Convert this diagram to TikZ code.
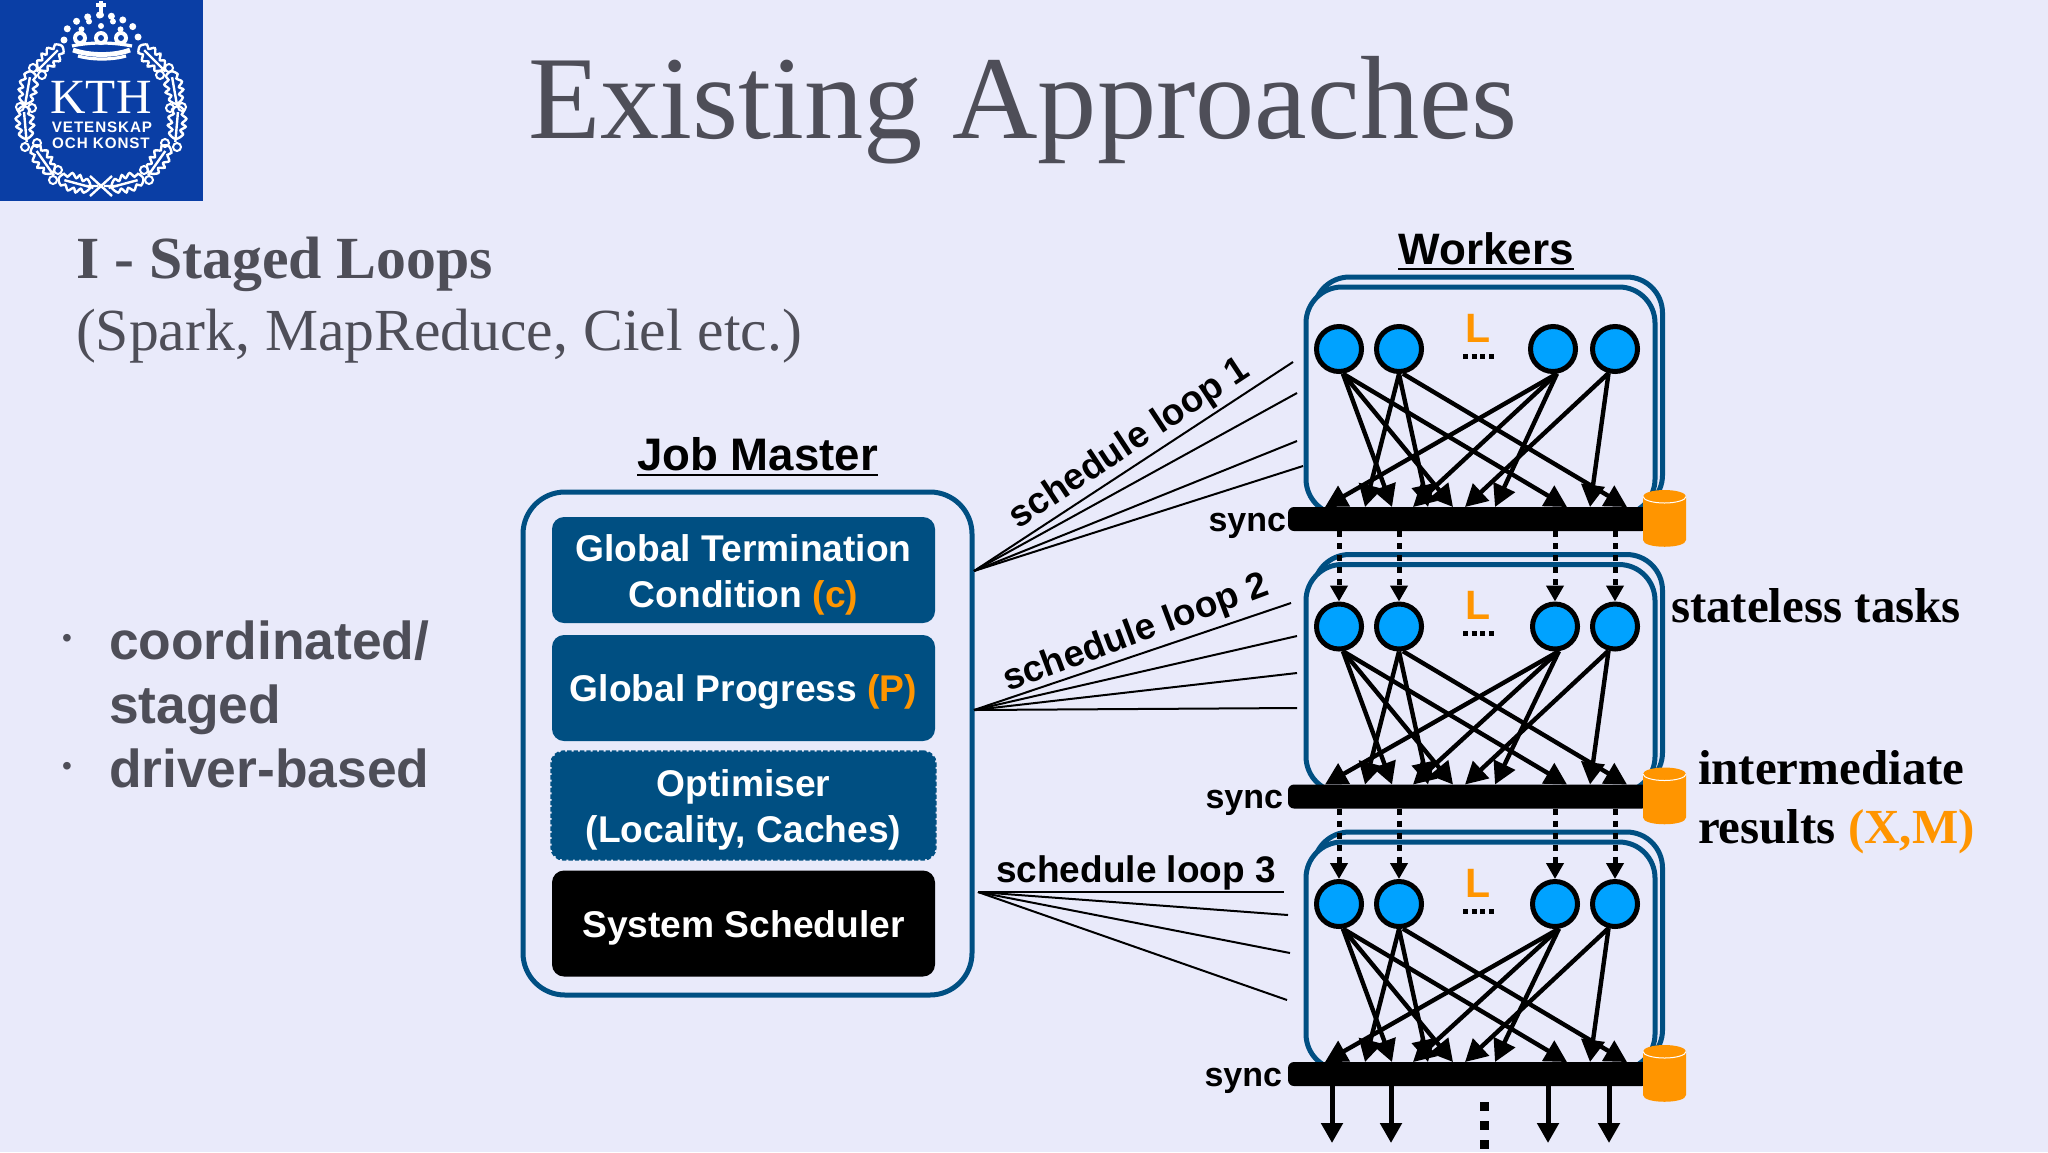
\documentclass[tikz,border=0pt]{standalone}
\usepackage{fontspec}
\setmainfont{Liberation Serif}
\setsansfont{Liberation Sans}
\newfontfamily\logosans[LetterSpace=6]{Liberation Sans}
\usetikzlibrary{arrows.meta,calc}
\definecolor{bgc}{RGB}{233,234,250}
\definecolor{kth}{RGB}{10,62,165}
\definecolor{navy}{RGB}{0,79,130}
\definecolor{gtxt}{RGB}{78,78,88}
\definecolor{org}{RGB}{255,149,0}
\definecolor{sky}{RGB}{0,162,255}
\newcommand{\fs}[1]{\fontsize{#1pt}{#1pt}\selectfont}
\tikzset{
  txt/.style={inner sep=0,outer sep=0},
  inbox/.style={txt,minimum width=191.5pt,minimum height=53pt,rounded corners=6pt,fill=navy},
  intext/.style={txt,text=white,align=center,font=\sffamily\bfseries\fontsize{18.6pt}{23pt}\selectfont},
  worker/.style={circle,draw=black,fill=sky,line width=2.5pt,minimum size=22.5pt,inner sep=0},
  flow/.style={line width=2.2pt,-{Triangle[length=11pt,width=11.5pt]}},
  sched/.style={line width=1pt,black},
  leaf/.style={white,line width=1.2pt},
}
\newcommand{\leafshape}{%
  \draw[leaf] plot[smooth cycle,tension=.6] coordinates{(-16,0)(-11,7)(-7,4)(-3,9)(0,5)(5,9)(9,4)(13,6)(17,0)(13,-6)(9,-4)(5,-9)(0,-5)(-3,-9)(-7,-4)(-11,-7)};
  \draw[leaf] (-19,0) -- (11,0);}
\begin{document}
\begin{tikzpicture}[x=0.5pt,y=-0.5pt]
\useasboundingbox (0,0) rectangle (2048,1152);
\fill[bgc] (0,0) rectangle (2048,1152);

% logo
\fill[kth] (0,0) rectangle (203,201);
\foreach \x/\y/\r/\m in {50/58/45/135,28/88/80/100,25/123/95/85,43/160/125/55,75/183/165/15}{
  \begin{scope}[shift={(\x,\y)},rotate=\r]\leafshape\end{scope}
  \begin{scope}[shift={(202-\x,\y)},rotate=\m]\leafshape\end{scope}
}
\foreach \x/\y in {33/68,20/107,32/108,25/147,37/143,58/170,53/180,42/75}{
  \draw[white,line width=1pt] (\x,\y) ellipse (4 and 4);
  \draw[white,line width=1pt] (202-\x,\y) ellipse (4 and 4);
}
\draw[white,line width=1.2pt] (90,176) -- (112,196) (90,196) -- (112,176) (86,186)--(98,186) (104,186)--(118,186);
% crown
\draw[white,line width=1.8pt] (101,1) -- (101,13) (96,5) -- (106,5);
\draw[white,line width=3.5pt,line cap=round,dash pattern=on 0pt off 6pt] (64,40) .. controls (62,24) and (86,15) .. (101,15) .. controls (116,15) and (140,24) .. (138,40);
\draw[white,line width=3pt,line cap=round,dash pattern=on 0pt off 5.5pt] (101,15) -- (101,36);
\draw[white,line width=3pt,line cap=round,dash pattern=on 0pt off 5.5pt] (81,40) .. controls (77,30) and (86,21) .. (97,18) (121,40) .. controls (125,30) and (116,21) .. (105,18);
\foreach \x in {80,101,121}{\fill[white] (\x,38) circle (7);\fill[kth] (\x,38) circle (3);}
\draw[white,line width=1.6pt] (72,46) .. controls (90,42) and (112,42) .. (132,46);
\draw[white,line width=2.4pt] (73,50) .. controls (90,56) and (114,56) .. (130,50);
\draw[white,line width=1.6pt] (78,56) .. controls (92,60) and (112,60) .. (126,56);
\node[txt,text=white,font=\fs{24.6}] (kthname) at (101,97) {KTH};
\node[txt,text=white,anchor=base,font=\logosans\bfseries\fs{7.6}] (kth1) at (102,132) {VETENSKAP};
\node[txt,text=white,anchor=base,font=\logosans\bfseries\fs{7.6}] (kth2) at (101,148) {OCH KONST};

% headings
\node[txt,anchor=base west,text=gtxt,font=\fs{59.2}] (title) at (528,138) {Existing Approaches};
\node[txt,anchor=base west,text=gtxt,font=\bfseries\fs{29.9}] (h1) at (76,278) {I - Staged Loops};
\node[txt,anchor=base west,text=gtxt,font=\fs{29.85}] (h2) at (76,350) {(Spark, MapReduce, Ciel etc.)};
\node[txt,text=gtxt,font=\sffamily\fs{14}] (bul1) at (67,641) {•};
\node[txt,text=gtxt,font=\sffamily\fs{14}] (bul2) at (67,769) {•};
\node[txt,anchor=base west,text=gtxt,font=\sffamily\bfseries\fs{26.7}] (b1) at (109,659) {coordinated/};
\node[txt,anchor=base west,text=gtxt,font=\sffamily\bfseries\fs{26.7}] (b2) at (109,723) {staged};
\node[txt,anchor=base west,text=gtxt,font=\sffamily\bfseries\fs{26.7}] (b3) at (109,787) {driver-based};

% job master
\node[txt,draw=navy,line width=2.5pt,rounded corners=21pt,minimum width=224.5pt,minimum height=251.5pt] (jm) at (747.5,743.5) {};
\node[inbox] (gtc) at (743.5,570) {};
\node[intext] (gtcT) at (743.5,575) {Global Termination\\Condition {\color{org}(c)}};
\node[inbox] (gp) at (743.5,688) {};
\node[intext] (gpT) at (743.5,692) {Global Progress {\color{org}(P)}};
\node[inbox,draw=navy,line width=1.2pt,dash pattern=on 2.2pt off 1pt,minimum width=192pt,minimum height=54pt] (opt) at (743.5,805.5) {};
\node[intext] (optT) at (743.5,809.5) {Optimiser\\(Locality, Caches)};
\node[inbox,fill=black] (ss) at (743.5,923.5) {};
\node[intext] (ssT) at (743.5,927.5) {System Scheduler};
\node[txt,anchor=base,font=\sffamily\bfseries\fs{22.8}] (jmt) at (757.5,470) {Job Master};
\draw[line width=1.4pt] ($(jmt.base west)+(0,5)$) -- ($(jmt.base east)+(0,5)$);
\node[txt,anchor=base,font=\sffamily\bfseries\fs{22}] (wt) at (1486,264) {Workers};
\draw[line width=1.4pt] ($(wt.base west)+(0,5)$) -- ($(wt.base east)+(0,5)$);

% worker panels
\foreach \p/\dy/\sx/\cx in {1/0/1286/1553,2/277.5/1283/1555,3/555/1282/1555}{
\begin{scope}[shift={(0,\dy)}]
  \node[txt,draw=navy,line width=2.5pt,rounded corners=18pt,minimum width=174.5pt,minimum height=117pt] (back\p) at (1488,394) {};
  \node[txt,draw=navy,fill=bgc,line width=2.5pt,rounded corners=18pt,minimum width=174.5pt,minimum height=114pt] (front\p) at (1480.5,401) {};
  \node[txt,fill=black,rounded corners=3pt,minimum width=180pt,minimum height=12pt] (bar\p) at (1468,519) {};
  % cylinder
  \fill[org] (1643,496.5) -- (1643,540) .. controls (1643,549) and (1686,549) .. (1686,540) -- (1686,496.5) -- cycle;
  \fill[org] (1664.5,496.5) ellipse (21.5 and 6.5);
  \draw[white,line width=.5pt] (1643,496.5) arc[start angle=180,end angle=360,x radius=21.5,y radius=-6.5];
  \node[worker] (c1-\p) at (1339,349) {};
  \node[worker] (c2-\p) at (1399,349) {};
  \node[worker] (c3-\p) at (\cx,349) {};
  \node[worker] (c4-\p) at (1615,349) {};
  \foreach \c/\a/\tx in {1/-81/1392,1/-81/1453,1/-81/1567,2/-90/1365,2/-90/1428,2/-81/1627,3/-81/1325,3/-81/1413,3/-81/1495,4/-105/1465,4/-105/1590}{
    \coordinate (t\tx-\p) at (\tx,507);
    \draw[flow] (c\c-\p.\a) -- (t\tx-\p);
  }
  \node[txt,anchor=base,text=org,font=\sffamily\bfseries\fs{20.5}] (L\p) at (1478,342) {L};
  \coordinate (da\p) at (1463,356);
  \coordinate (db\p) at (1494,356);
  \draw[line width=2.5pt,dash pattern=on 2.6pt off 1.7pt] (da\p) -- (db\p);
  \node[txt,anchor=base east,font=\sffamily\bfseries\fs{17}] (s\p) at (\sx,531) {sync};
\end{scope}
}
% dotted links between panels
\tikzset{dashlink/.style={line width=2.5pt,dash pattern=on 3pt off 3pt,-{Triangle[length=8pt,width=8.5pt]}}}
\foreach \cc in {1,2,3,4}{
  \draw[dashlink] (c\cc-2 |- bar1.south) -- (c\cc-2.north);
  \draw[dashlink] (c\cc-3 |- bar2.south) -- (c\cc-3.north);
}
% bottom arrows
\tikzset{outflow/.style={line width=2.5pt,-{Triangle[length=10pt,width=10.5pt]}}}
\foreach \x/\n in {1332/a,1391/b,1548/c,1609/d}{
  \coordinate (e\n) at (\x,1143);
  \draw[outflow] (e\n |- bar3.south) -- (e\n);
}
\coordinate (dd1) at (1484,1102);
\coordinate (dd2) at (1484,1152);
\draw[line width=4.5pt,dash pattern=on 4.5pt off 5pt] (dd1) -- (dd2);

% schedule connectors
\foreach \o/\ox/\oy/\ends in {
  1/974/571/{1293/362,1297/393,1297/441,1303/466},
  2/974/710/{1291/603,1297/636,1297/673,1297/708},
  3/978/892/{1284/892,1288/915,1290/953,1287/1000}}{
  \coordinate (o\o) at (\ox,\oy);
  \foreach \ex/\ey in \ends{
    \coordinate (e\o-\ex) at (\ex,\ey);
    \draw[sched] (o\o) -- (e\o-\ex);
  }
}
\node[txt,rotate=33.5,font=\sffamily\bfseries\fs{18.5}] (sl1) at (1130,444) {schedule loop 1};
\node[txt,rotate=20.5,font=\sffamily\bfseries\fs{18.5}] (sl2) at (1136,634) {schedule loop 2};
\node[txt,font=\sffamily\bfseries\fs{18.5}] (sl3) at (1136,873) {schedule loop 3};

% right texts
\node[txt,anchor=base west,font=\bfseries\fs{24.5}] (st) at (1671,622) {stateless tasks};
\node[txt,anchor=base west,font=\bfseries\fs{24.5}] (ir1) at (1698,784) {intermediate};
\node[txt,anchor=base west,font=\bfseries\fs{24.5}] (ir2) at (1698,843) {results {\color{org}(X,M)}};
\end{tikzpicture}
\end{document}
